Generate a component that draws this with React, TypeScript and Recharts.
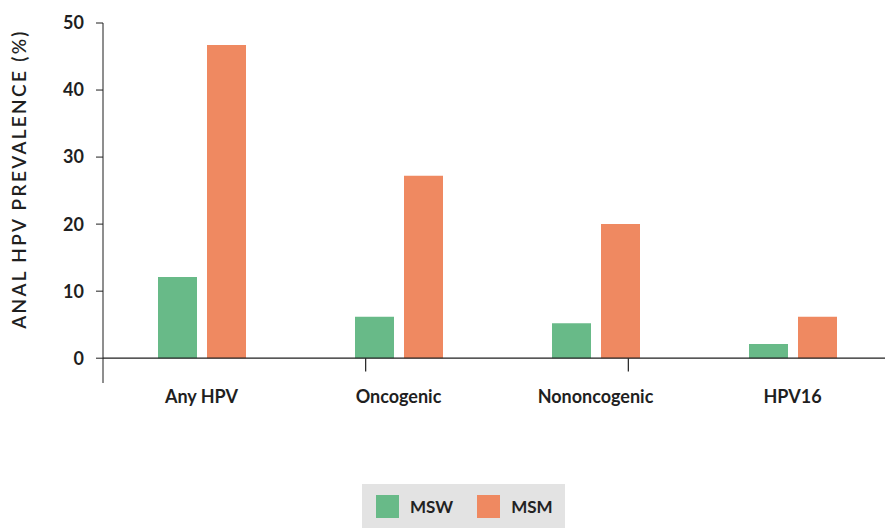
import { Bar, BarChart, Legend, ReferenceLine, XAxis, YAxis } from "recharts";

const categories = ["Any HPV", "Oncogenic", "Nononcogenic", "HPV16"];
const msw = [12.1, 6.2, 5.2, 2.1];
const msm = [46.7, 27.2, 20.0, 6.2];
const yTicks = [0, 10, 20, 30, 40, 50];
const dividers = [1, 2, 3];
const seriesOrder = ["MSW", "MSM"];

const data = categories.map((name, i) => ({ name, msw: msw[i], msm: msm[i] }));

const GREEN = "#68ba88";
const ORANGE = "#ef8961";
const INK = "#1f1f1f";
const FONT = "Lato, 'Open Sans', sans-serif";

function LegendBox({ payload }: any) {
  const items = [...(payload || [])].sort(
    (a: any, b: any) => seriesOrder.indexOf(a.value) - seriesOrder.indexOf(b.value)
  );
  return (
    <div
      style={{
        background: "#e3e3e3",
        display: "flex",
        alignItems: "center",
        gap: 24,
        padding: "0 12px 0 14px",
        height: 44,
        fontFamily: FONT,
        fontSize: 17,
        fontWeight: 700,
        color: "#222",
      }}
    >
      {items.map((p: any) => (
        <span key={p.value} style={{ display: "flex", alignItems: "center", gap: 11 }}>
          <span style={{ width: 23, height: 23, background: p.color, display: "inline-block" }} />
          {p.value}
        </span>
      ))}
    </div>
  );
}

export default function App() {
  return (
    <div
      style={{
        position: "absolute",
        left: 0,
        top: 0,
        width: 885,
        height: 528,
        overflow: "hidden",
        background: "#fff",
      }}
    >
      <BarChart
        width={895}
        height={528}
        data={data}
        margin={{ top: 23, right: 4, bottom: 115, left: 0 }}
        barSize={39}
        barGap={10}
      >
        <XAxis
          dataKey="name"
          height={30}
          axisLine={false}
          tickLine={false}
          tick={{ fill: INK, fontSize: 18, fontWeight: 700, fontFamily: FONT }}
          dy={-1}
        />
        <XAxis xAxisId="edge" type="number" domain={[0, 4]} hide />
        <YAxis
          width={103}
          domain={[-3.7, 50]}
          ticks={yTicks}
          allowDataOverflow
          stroke={INK}
          tickSize={7}
          tickMargin={12}
          tick={{ fill: INK, fontSize: 18, fontWeight: 700, fontFamily: FONT }}
          label={{
            content: () => (
              <text
                transform="translate(18,179) rotate(-90)"
                textAnchor="middle"
                dominantBaseline="central"
                fill={INK}
                fontSize={19}
                fontFamily={FONT}
                fontWeight={600}
                letterSpacing={2.3}
              >
                ANAL HPV PREVALENCE (%)
              </text>
            ),
          }}
        />
        <ReferenceLine y={0} stroke={INK} strokeWidth={1.2} />
        {dividers.map((d) => (
          <ReferenceLine
            key={d}
            xAxisId="edge"
            stroke={INK}
            strokeWidth={1.2}
            segment={[
              { x: d, y: 0 },
              { x: d, y: -2 },
            ]}
          />
        ))}
        <Legend
          verticalAlign="middle"
          layout="horizontal"
          content={<LegendBox />}
          wrapperStyle={{ left: 362, top: 484, width: "auto" }}
        />
        <Bar dataKey="msw" name="MSW" fill={GREEN} isAnimationActive={false} />
        <Bar dataKey="msm" name="MSM" fill={ORANGE} isAnimationActive={false} />
      </BarChart>
    </div>
  );
}
